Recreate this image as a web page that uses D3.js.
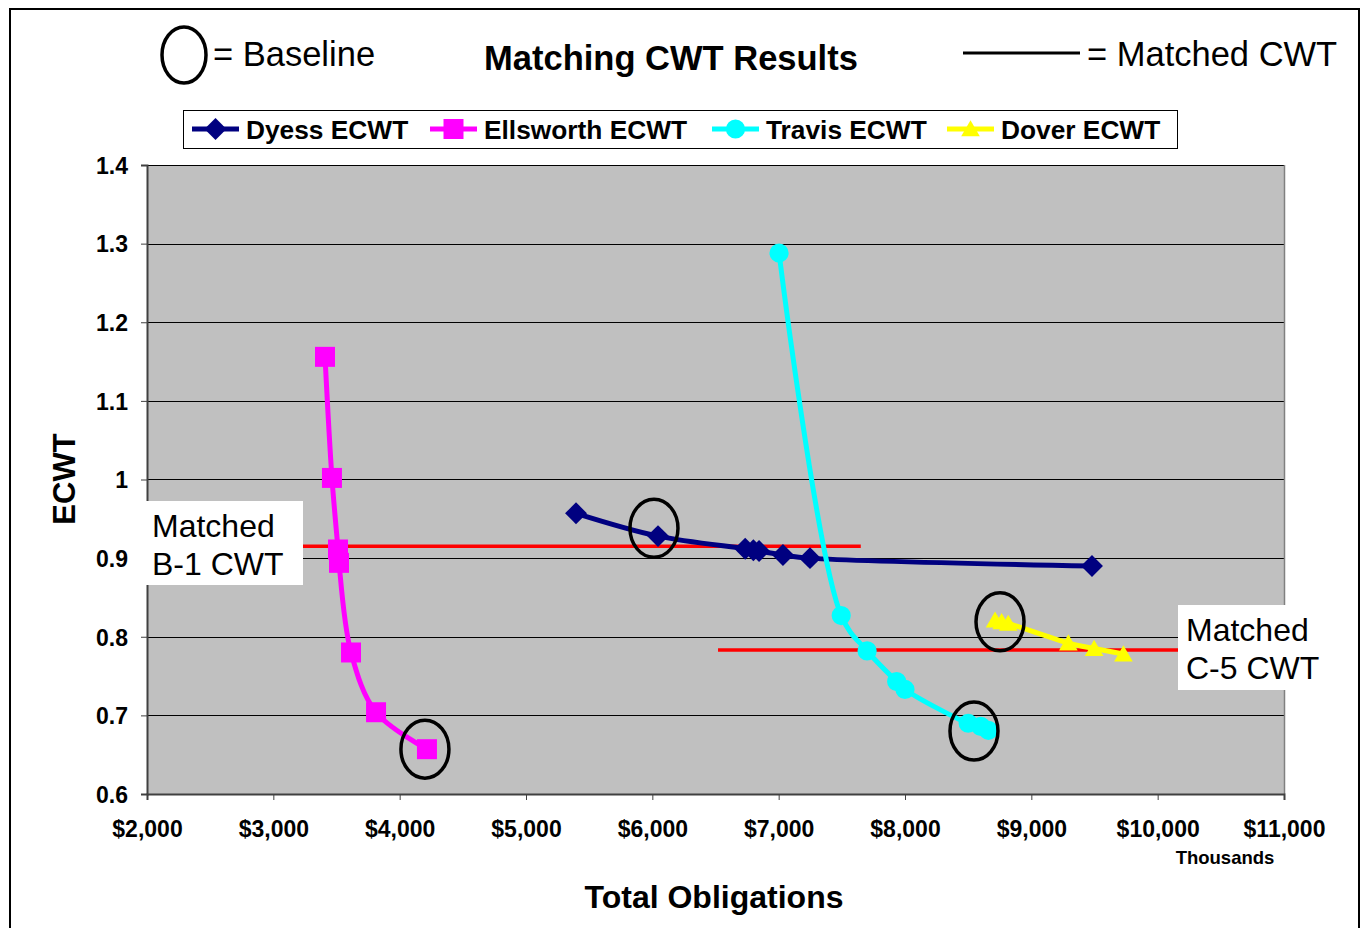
<!DOCTYPE html>
<html><head><meta charset="utf-8">
<script src="https://cdn.jsdelivr.net/npm/d3@7"></script>
<style>body{margin:0;background:#fff}svg{display:block}text{font-family:"Liberation Sans",Arial,sans-serif}</style>
</head><body><svg id="c" width="1366" height="928"></svg>
<script>
// ---- data ----
const seriesNames = ["Dyess ECWT","Ellsworth ECWT","Travis ECWT","Dover ECWT"];
const dyessX = [5396,6045,6735,6800,6845,7034,7248,9480];
const dyessY = [0.957,0.928,0.912,0.910,0.909,0.904,0.900,0.890];
const ellsworthX = [3409,3464,3512,3520,3615,3813,4216];
const ellsworthY = [1.156,1.002,0.911,0.894,0.780,0.704,0.657];
const travisX = [7003,7495,7700,7934,8000,8500,8600,8660];
const travisY = [1.288,0.827,0.782,0.743,0.733,0.690,0.686,0.681];
const doverX = [8713,8765,8817,9293,9497,9729];
const doverY = [0.821,0.819,0.817,0.792,0.785,0.778];
// baseline circle centres (Dyess, Ellsworth, Travis, Dover)
const baselineX = [6013,4200,8546,8752];
const baselineY = [0.938,0.657,0.680,0.819];
// matched CWT lines
const matchedNames = ["Matched|B-1 CWT","Matched|C-5 CWT"];
const matchedY = [0.915,0.783];
const matchedX0 = [2000,6520];
const matchedX1 = [7650,11000];
const xTicks = [2000,3000,4000,5000,6000,7000,8000,9000,10000,11000];
const xTickLabels = ["$2,000","$3,000","$4,000","$5,000","$6,000","$7,000","$8,000","$9,000","$10,000","$11,000"];
const yTicks = [0.6,0.7,0.8,0.9,1.0,1.1,1.2,1.3,1.4];
const yTickLabels = ["0.6","0.7","0.8","0.9","1","1.1","1.2","1.3","1.4"];

const colors = ["#000080","#ff00ff","#00ffff","#ffff00"];
const shapes = ["diamond","square","circle","triangle"];

const svg = d3.select("#c");
const L=147,R=1284,T=165,B=794;
const x = d3.scaleLinear().domain([2000,11000]).range([L,R]);
const y = d3.scaleLinear().domain([0.6,1.4]).range([B,T]);

// outer frame
svg.append("rect").attr("x",10).attr("y",9).attr("width",1349).attr("height",940)
  .attr("fill","#fff").attr("stroke","#000").attr("stroke-width",2);

// plot bg
svg.append("rect").attr("x",L).attr("y",T).attr("width",R-L).attr("height",B-T).attr("fill","#c0c0c0");
// gridlines
svg.append("g").selectAll("line").data(yTicks).join("line")
  .attr("x1",L).attr("x2",R).attr("y1",d=>Math.round(y(d))+0.5).attr("y2",d=>Math.round(y(d))+0.5)
  .attr("stroke","#000").attr("stroke-width",1);
svg.append("line").attr("x1",R+0.5).attr("x2",R+0.5).attr("y1",T).attr("y2",B).attr("stroke","#808080").attr("stroke-width",1.5);

// axes
const yAxis = d3.axisLeft(y).tickValues(yTicks).tickSize(6).tickFormat((d,i)=>yTickLabels[i]);
const gy = svg.append("g").attr("transform",`translate(${L},0)`).call(yAxis);
gy.select(".domain").attr("stroke","#404040").attr("stroke-width",2);
gy.selectAll(".tick line").attr("stroke","#404040");
gy.selectAll(".tick text").attr("font-size",23).attr("font-weight","bold").attr("fill","#000").attr("x",-19).attr("dy","0.36em").style("font-family",'"Liberation Sans",Arial,sans-serif');

const xAxis = d3.axisBottom(x).tickValues(xTicks).tickSize(6).tickFormat((d,i)=>xTickLabels[i]);
const gx = svg.append("g").attr("transform",`translate(0,${B})`).call(xAxis);
gx.select(".domain").attr("stroke","#404040").attr("stroke-width",2);
gx.selectAll(".tick line").attr("stroke","#404040");
gx.selectAll(".tick text").attr("font-size",23).attr("font-weight","bold").attr("fill","#000").attr("y",35).attr("dy","0.36em").style("font-family",'"Liberation Sans",Arial,sans-serif');

svg.append("text").attr("x",1225).attr("y",864).attr("text-anchor","middle").attr("font-size",18.5).attr("font-weight","bold").text("Thousands");
svg.append("text").attr("x",714).attr("y",908).attr("text-anchor","middle").attr("font-size",32).attr("font-weight","bold").text("Total Obligations");
svg.append("text").attr("transform","translate(75,479) rotate(-90)").attr("text-anchor","middle").attr("font-size",31).attr("font-weight","bold").text("ECWT");

// matched red lines
svg.append("g").selectAll("line").data(matchedY).join("line")
  .attr("x1",(d,i)=>x(matchedX0[i])).attr("x2",(d,i)=>x(matchedX1[i]))
  .attr("y1",d=>y(d)).attr("y2",d=>y(d)).attr("stroke","#ff0000").attr("stroke-width",3.5);

// series
const allX=[dyessX,ellsworthX,travisX,doverX], allY=[dyessY,ellsworthY,travisY,doverY];
const line = d3.line().x(d=>x(d[0])).y(d=>y(d[1])).curve(d3.curveCatmullRom.alpha(0.5));
function symPath(shape){
  if(shape==="diamond") return d3.symbol(d3.symbolSquare,240)();
  if(shape==="square") return d3.symbol(d3.symbolSquare,400)();
  if(shape==="circle") return d3.symbol(d3.symbolCircle,290)();
  return d3.symbol(d3.symbolTriangle,150)();
}
const order=[1,0,2,3];
order.forEach(s=>{
  const pts = allX[s].map((v,i)=>[v,allY[s][i]]);
  const g = svg.append("g");
  g.append("path").attr("d",line(pts)).attr("fill","none").attr("stroke",colors[s]).attr("stroke-width",5).attr("stroke-linejoin","round");
  g.selectAll("path.m").data(pts).join("path").attr("class","m")
    .attr("d",symPath(shapes[s]))
    .attr("transform",d=>`translate(${x(d[0])},${y(d[1])})`+(shapes[s]==="diamond"?" rotate(45)":"")+(shapes[s]==="triangle"?" translate(0,2)":""))
    .attr("fill",colors[s]);
});

// baseline circles
svg.append("g").selectAll("ellipse").data(baselineX).join("ellipse")
  .attr("cx",d=>x(d)).attr("cy",(d,i)=>y(baselineY[i])).attr("rx",24).attr("ry",29)
  .attr("fill","none").attr("stroke","#000").attr("stroke-width",3.5);

// matched label boxes
const boxes=[{x:140,y:501,w:163,h:84},{x:1178,y:605,w:147,h:85}];
matchedNames.forEach((n,i)=>{
  const b=boxes[i];
  svg.append("rect").attr("x",b.x).attr("y",b.y).attr("width",b.w).attr("height",b.h).attr("fill","#fff");
  const parts=n.split("|");
  parts.forEach((p,j)=>svg.append("text").attr("x",b.x+(i===0?12:8)).attr("y",b.y+36+j*38).attr("font-size",32).text(p));
});

// title and header annotations
svg.append("text").attr("x",671).attr("y",70).attr("text-anchor","middle").attr("font-size",34.5).attr("font-weight","bold").text("Matching CWT Results");
svg.append("ellipse").attr("cx",184).attr("cy",55).attr("rx",22).attr("ry",28).attr("fill","none").attr("stroke","#000").attr("stroke-width",3.5);
svg.append("text").attr("x",213).attr("y",66).attr("font-size",34.5).text("= Baseline");
svg.append("line").attr("x1",963).attr("x2",1080).attr("y1",53).attr("y2",53).attr("stroke","#000").attr("stroke-width",3);
svg.append("text").attr("x",1087).attr("y",66).attr("font-size",34.5).text("= Matched CWT");

// legend
const lg = svg.append("g");
lg.append("rect").attr("x",183.5).attr("y",110.5).attr("width",994).attr("height",38).attr("fill","#fff").attr("stroke","#000").attr("stroke-width",1);
const legX=[192,430,712,947];
seriesNames.forEach((n,i)=>{
  const cx=legX[i];
  lg.append("line").attr("x1",cx).attr("x2",cx+47).attr("y1",129).attr("y2",129).attr("stroke",colors[i]).attr("stroke-width",5);
  lg.append("path").attr("d",symPath(shapes[i])).attr("fill",colors[i])
    .attr("transform",`translate(${cx+23.5},129)`+(shapes[i]==="diamond"?" rotate(45)":"")+(shapes[i]==="triangle"?" translate(0,2)":""));
  lg.append("text").attr("x",cx+54).attr("y",139).attr("font-size",26.3).attr("font-weight","bold").text(n);
});
</script></body></html>
